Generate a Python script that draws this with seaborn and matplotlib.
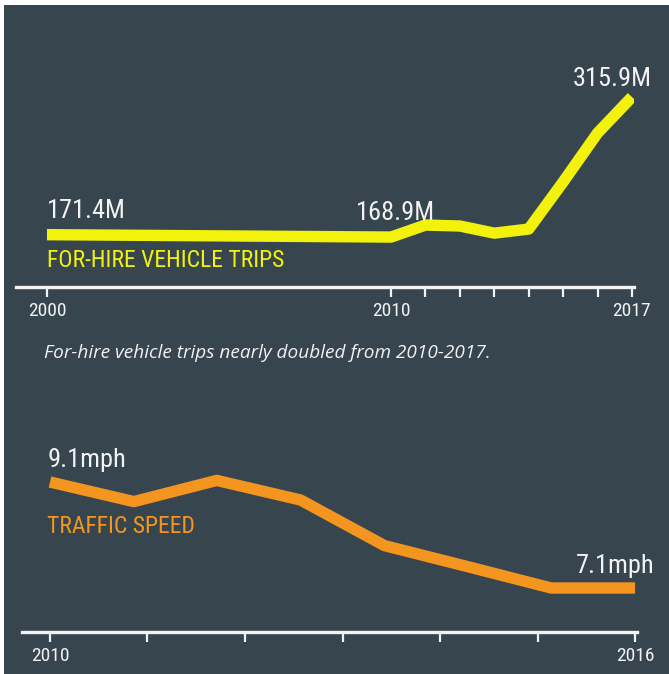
import matplotlib
matplotlib.use('Agg')
import matplotlib.pyplot as plt
import seaborn as sns
import pandas as pd
from matplotlib.patches import Rectangle

# for-hire vehicle trips (millions)
trip_years = [2000, 2010, 2011, 2012, 2013, 2014, 2015, 2016, 2017]
trip_values = [171.4, 168.9, 181.5, 180.5, 173.0, 177.3, 226.7, 278.0, 315.9]
trip_ticks = [2000, 2010, 2011, 2012, 2013, 2014, 2015, 2016, 2017]
trip_tick_labels = ['2000', '2010', '', '', '', '', '', '', '2017']

# traffic speed (mph), eight readings spread across 2010-2016
speed_pos = [2010.0, 2010.86, 2011.71, 2012.57, 2013.43, 2014.29, 2015.14, 2016.0]
speed_values = [9.1, 8.73, 9.13, 8.76, 7.9, 7.5, 7.1, 7.1]
speed_ticks = [2010, 2011, 2012, 2013, 2014, 2015, 2016]
speed_tick_labels = ['2010', '', '', '', '', '', '2016']

BG = '#37454e'
YELLOW = '#f2f20c'
ORANGE = '#f4951f'
WHITE = '#f2f2f2'
NARROW = ['Roboto Condensed', 'DejaVu Sans Condensed', 'Liberation Sans Narrow', 'Roboto', 'DejaVu Sans']

sns.set_style('dark')
plt.rcParams['font.family'] = NARROW
plt.rcParams['font.stretch'] = 'condensed'

W, H = 669, 674
fig = plt.figure(figsize=(W / 100, H / 100), dpi=100)
fig.patch.set_facecolor('white')
fig.add_artist(Rectangle((4 / W, 0), 1 - 4 / W, 1 - 5 / H, transform=fig.transFigure,
                         facecolor=BG, edgecolor='none', zorder=-1))


def px_axes(left, right, top, bottom):
    return fig.add_axes([left / W, 1 - bottom / H, (right - left) / W, (bottom - top) / H])


def style_axis(ax, ticks, labels):
    ax.set_facecolor('none')
    for s in ['top', 'left', 'right']:
        ax.spines[s].set_visible(False)
    ax.spines['bottom'].set_color(WHITE)
    ax.spines['bottom'].set_linewidth(2.4)
    ax.set_xticks(ticks)
    ax.set_xticklabels(labels)
    ax.set_yticks([])
    ax.tick_params(axis='x', direction='out', length=7.5, width=1.6, color=WHITE,
                   labelcolor=WHITE, labelsize=14, pad=3, bottom=True)
    ax.set_xlabel('')
    ax.set_ylabel('')
    ax.grid(False)


# ---- top: trips
ax1 = px_axes(16, 634, 60, 287)
df1 = pd.DataFrame({'year': trip_years, 'trips': trip_values})
sns.lineplot(data=df1, x='year', y='trips', ax=ax1, color=YELLOW, linewidth=8.2,
             solid_capstyle='butt', solid_joinstyle='round')
ax1.set_xlim(1999.1, 2017.06)
ax1.set_ylim(116.5, 354.7)
style_axis(ax1, trip_ticks, trip_tick_labels)

ax1.annotate('171.4M', (trip_years[0], trip_values[0]), xytext=(0, 12), textcoords='offset points',
             ha='left', va='baseline', color=WHITE, fontsize=19)
ax1.annotate('168.9M', (trip_years[1], trip_values[1]), xytext=(3, 12), textcoords='offset points',
             ha='center', va='baseline', color=WHITE, fontsize=19)
ax1.annotate('315.9M', (trip_years[-1], trip_values[-1]), xytext=(14, 8), textcoords='offset points',
             ha='right', va='baseline', color=WHITE, fontsize=19)
ax1.annotate('FOR-HIRE VEHICLE TRIPS', (trip_years[0], trip_values[0]), xytext=(0, -10),
             textcoords='offset points', ha='left', va='top', color=YELLOW, fontsize=17)

fig.text(44 / W, 1 - 358 / H, 'For-hire vehicle trips nearly doubled from 2010-2017.',
         family=['Open Sans', 'DejaVu Sans'], style='italic', stretch='normal', color=WHITE,
         fontsize=13.7, ha='left', va='baseline')

# ---- bottom: speed
ax2 = px_axes(22, 637, 400, 632)
df2 = pd.DataFrame({'pos': speed_pos, 'speed': speed_values})
sns.lineplot(data=df2, x='pos', y='speed', ax=ax2, color=ORANGE, linewidth=8.2,
             solid_capstyle='butt', solid_joinstyle='round')
ax2.set_xlim(2009.713, 2016.02)
ax2.set_ylim(6.27, 10.647)
style_axis(ax2, speed_ticks, speed_tick_labels)

ax2.annotate('9.1mph', (speed_pos[0], speed_values[0]), xytext=(-2, 11), textcoords='offset points',
             ha='left', va='baseline', color=WHITE, fontsize=19)
ax2.annotate('7.1mph', (speed_pos[-1], speed_values[-1]), xytext=(14, 11), textcoords='offset points',
             ha='right', va='baseline', color=WHITE, fontsize=19)
ax2.annotate('TRAFFIC SPEED', (speed_pos[0], speed_values[0]), xytext=(-2, -24),
             textcoords='offset points', ha='left', va='top', color=ORANGE, fontsize=17)

fig.savefig('out.png', dpi=100, facecolor=fig.get_facecolor())
